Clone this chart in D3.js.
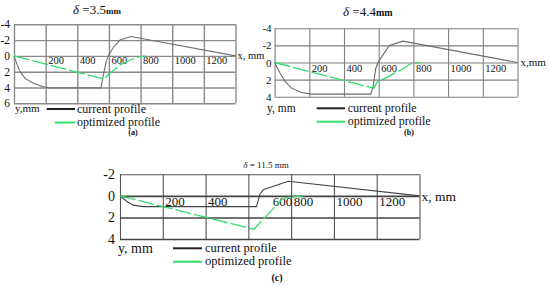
<!DOCTYPE html>
<html><head><meta charset="utf-8">
<script src="https://cdn.jsdelivr.net/npm/d3@7"></script>
<style>
body{margin:0;background:#fff}
svg{display:block}
text{font-family:"Liberation Serif","DejaVu Serif","Times New Roman",serif;fill:#111}
</style>
</head><body><svg id="chart" width="550" height="286"></svg>
<script>
// ---- data ----
const xGrid = [0, 200, 400, 600, 800, 1000, 1200, 1400];
const xTickLabels = [200, 400, 600, 800, 1000, 1200];
const yTicksA = [-4, -2, 0, 2, 4, 6];
const yTicksB = [-4, -2, 0, 2, 4];
const yTicksC = [-2, 0, 2, 4];
const titleValues = ["3.5", "4.4", "11.5"];
const panelLetters = ["(a)", "(b)", "(c)"];
const seriesNames = ["current profile", "optimized profile"];

const currentA = [[0,0],[17,0.95],[38,2.0],[70,2.85],[122,3.45],[185,3.9],[230,4.05],[550,4.05],[565,2.4],[582,0.75],[596,0.0],[628,-1.1],[670,-2.0],[740,-2.45],[1400,0]];
const optimizedA = [[0,0],[570,2.95],[600,2.3],[670,1.15],[730,0.55],[790,0.12],[830,0]];

const currentB = [[0,0],[15,0.6],[31,1.24],[60,2.2],[98,3.0],[155,3.5],[212,3.7],[555,3.7],[568,2.8],[583,0.7],[597,-0.05],[661,-2.0],[740,-2.5],[1400,0]];
const optimizedB = [[0,0],[572,3.0],[590,2.3],[661,1.6],[727,0.9],[784,0.15],[840,0]];

const currentC = [[0,0],[31,0.5],[62,0.86],[109,1.0],[638,1.0],[655,-0.2],[672,-0.6],[787,-1.36],[1400,0]];
const optimizedC = [[0,0],[626,3.1],[760,0.25],[790,0.12],[857,0]];

// ---- layout ----
const FONT = '"Liberation Serif","DejaVu Serif","Times New Roman",serif';
const panels = [
  {x0:14, x1:235.5, yt:24.3, yb:103.3, yTicks:yTicksA, cur:currentA, opt:optimizedA,
   gridColor:"#8a8a8a", gridW:1.4, curColor:"#707070", fs:10.5, xlDy:8, ylFs:11.5, ylPad:4,
   xName:"x, mm", xNameFs:10.5, xNameDx:2, xNameDy:3,
   yName:"y,mm", yNameX:15, yNameY:111.5, yNameFs:11,
   title:{x:73, y:14, fs:13, mmFs:9}, leg:{bx0:46.7, gx0:55, x1:75, y1:109, y2:122.5, tx:77, fs:12},
   letter:{x:133, y:135, fs:8}, label600dx:0},
  {x0:274.6, x1:517.5, yt:28.3, yb:96.7, yTicks:yTicksB, cur:currentB, opt:optimizedB,
   gridColor:"#808080", gridW:1.1, curColor:"#6a6a6a", fs:10.5, xlDy:9, ylFs:11, ylPad:3,
   xName:"x,mm", xNameFs:11, xNameDx:3, xNameDy:3.5,
   yName:"y, mm", yNameX:267, yNameY:111.5, yNameFs:11.5,
   title:{x:343, y:16, fs:13, mmFs:10}, leg:{bx0:316.7, gx0:316.7, x1:345, y1:108.3, y2:121.7, tx:347.7, fs:12},
   letter:{x:409, y:135, fs:8}, label600dx:0},
  {x0:120, x1:419.5, yt:174.3, yb:239, yTicks:yTicksC, cur:currentC, opt:optimizedC,
   gridColor:"#555", gridW:1.1, curColor:"#444", fs:13, xlDy:10.5, ylFs:14, ylPad:5,
   xName:"x, mm", xNameFs:13.5, xNameDx:2, xNameDy:5,
   yName:"y, mm", yNameX:118, yNameY:252.5, yNameFs:14,
   title:{x:266, y:168, fs:9, mmFs:9, center:true}, leg:{bx0:173, gx0:173, x1:202, y1:248.3, y2:261.7, tx:205, fs:12.5},
   letter:{x:277, y:281, fs:10}, label600dx:22}
];

const svg = d3.select("#chart");

panels.forEach((p, i) => {
  const yDom = [p.yTicks[0], p.yTicks[p.yTicks.length - 1]];
  const x = d3.scaleLinear().domain([0, 1400]).range([p.x0, p.x1]);
  const y = d3.scaleLinear().domain(yDom).range([p.yt, p.yb]);
  const g = svg.append("g");
  const h = p.yb - p.yt, w = p.x1 - p.x0;

  // vertical grid
  const gx = g.append("g").attr("transform", `translate(0,${p.yb})`)
    .call(d3.axisBottom(x).tickValues(xGrid).tickSize(-h).tickFormat(""));
  gx.select(".domain").remove();
  gx.selectAll("line").attr("stroke", p.gridColor).attr("stroke-width", p.gridW);
  // horizontal grid
  const gy = g.append("g").attr("transform", `translate(${p.x0},0)`)
    .call(d3.axisLeft(y).tickValues(p.yTicks).tickSize(-w).tickFormat(""));
  gy.select(".domain").remove();
  gy.selectAll("line").attr("stroke", d => (i === 2 && d >= 0) ? "#444" : p.gridColor)
    .attr("stroke-width", d => (i === 2 && d >= 0) ? 1.6 : p.gridW);

  // y tick labels
  const yl = g.append("g").attr("transform", `translate(${p.x0},0)`)
    .call(d3.axisLeft(y).tickValues(p.yTicks).tickSize(0).tickPadding(p.ylPad).tickFormat(d => String(d)));
  yl.select(".domain").remove();
  yl.attr("font-family", FONT);
  yl.selectAll("text").attr("font-size", p.ylFs).attr("font-family", FONT).attr("fill", "#111");

  // x tick labels (placed just right of each gridline, below the zero line)
  g.selectAll("text.xl").data(xTickLabels).join("text").attr("class", "xl")
    .attr("x", d => x(d) + 2.5 + (d === 600 ? p.label600dx : 0))
    .attr("y", y(0) + p.xlDy)
    .attr("font-size", p.fs).attr("font-family", FONT)
    .text(d => d);

  // axis names
  g.append("text").attr("x", p.x1 + p.xNameDx).attr("y", y(0) + p.xNameDy)
    .attr("font-size", p.xNameFs).attr("font-family", FONT).text(p.xName);
  g.append("text").attr("x", p.yNameX).attr("y", p.yNameY)
    .attr("font-size", p.yNameFs).attr("font-family", FONT).text(p.yName);

  // series
  const line = d3.line().x(d => x(d[0])).y(d => y(d[1]));
  g.append("path").datum(p.cur).attr("d", line).attr("fill", "none")
    .attr("stroke", p.curColor).attr("stroke-width", 1.1);
  g.append("path").datum(p.opt).attr("d", line).attr("fill", "none")
    .attr("stroke", "#2fe06a").attr("stroke-width", 1.3).attr("stroke-dasharray", "16,3");

  // title
  const t = g.append("text").attr("x", p.title.x).attr("y", p.title.y)
    .attr("font-size", p.title.fs).attr("font-family", FONT);
  if (p.title.center) t.attr("text-anchor", "middle");
  t.append("tspan").attr("font-style", "italic").text("δ");
  if (i === 2) {
    t.append("tspan").text(" = " + titleValues[i] + " mm");
  } else {
    t.append("tspan").text(" =" + titleValues[i]);
    t.append("tspan").attr("font-size", p.title.mmFs).attr("font-weight", "bold").text("mm");
  }

  // legend
  g.append("line").attr("x1", p.leg.bx0).attr("x2", p.leg.x1).attr("y1", p.leg.y1).attr("y2", p.leg.y1)
    .attr("stroke", "#222").attr("stroke-width", 2);
  g.append("line").attr("x1", p.leg.gx0).attr("x2", p.leg.x1).attr("y1", p.leg.y2).attr("y2", p.leg.y2)
    .attr("stroke", "#2fe06a").attr("stroke-width", 2);
  g.append("text").attr("x", p.leg.tx).attr("y", p.leg.y1 + 4).attr("font-size", p.leg.fs)
    .attr("font-family", FONT).text(seriesNames[0]);
  g.append("text").attr("x", p.leg.tx).attr("y", p.leg.y2 + 3.5).attr("font-size", p.leg.fs)
    .attr("font-family", FONT).text(seriesNames[1]);

  // panel letter
  g.append("text").attr("x", p.letter.x).attr("y", p.letter.y).attr("text-anchor", "middle")
    .attr("font-size", p.letter.fs).attr("font-weight", "bold").attr("font-family", FONT).text(panelLetters[i]);
});
</script>
</body></html>
